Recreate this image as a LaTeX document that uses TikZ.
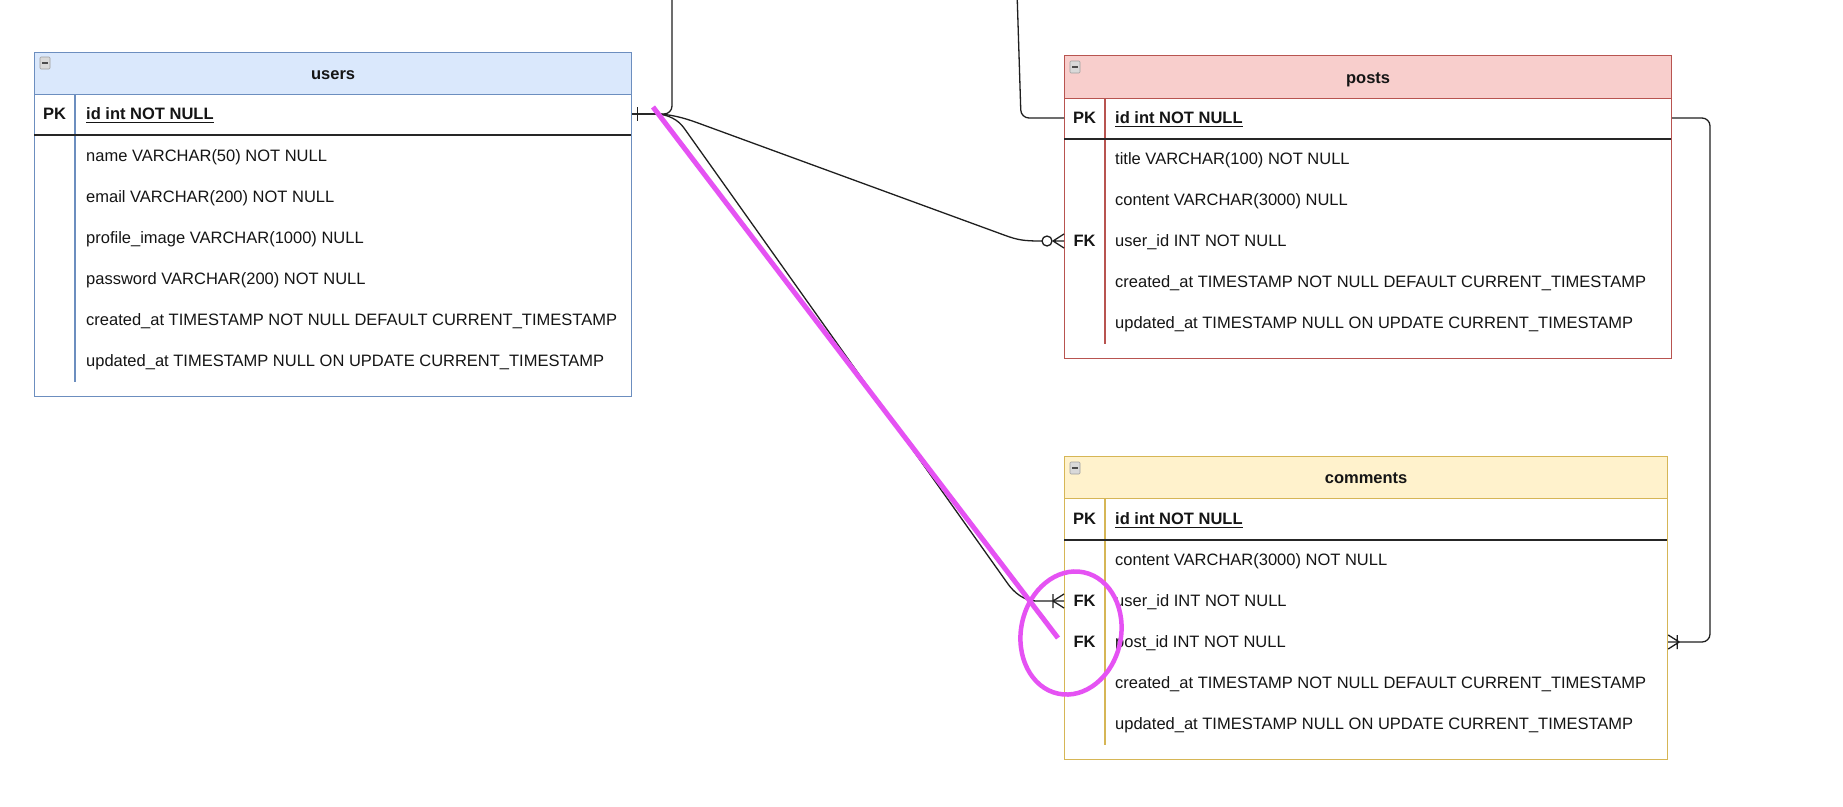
\documentclass[tikz,border=0pt]{standalone}
\usepackage{fontspec}
\setmainfont{Liberation Sans}
\usetikzlibrary{calc}
\definecolor{usersF}{HTML}{DAE8FC}
\definecolor{usersB}{HTML}{6C8EBF}
\definecolor{postsF}{HTML}{F8CECC}
\definecolor{postsB}{HTML}{B85450}
\definecolor{commF}{HTML}{FFF2CC}
\definecolor{commB}{HTML}{D6B656}
\definecolor{hlmag}{HTML}{E552F3}
\definecolor{ink}{HTML}{151515}
\begin{document}
\begin{tikzpicture}[x=1pt,y=-1pt,
  every node/.style={font=\fontsize{16.5}{19}\selectfont, text=ink},
  rowtext/.style={anchor=west, inner sep=0pt, text height=11.8pt, text depth=0pt},
  keytext/.style={inner sep=0pt, text height=11.8pt, text depth=0pt, font=\fontsize{16.5}{19}\selectfont\bfseries},
  idtext/.style={rowtext, font=\fontsize{16.5}{19}\selectfont\bfseries},
  tblbody/.style={draw=#1, line width=1.2pt, fill=white, anchor=north west, inner sep=0pt},
  hdr/.style 2 args={draw=#1, fill=#2, line width=1.2pt, anchor=north west, inner sep=0pt,
     font=\fontsize{16.5}{19}\selectfont\bfseries, text height=11.8pt, text depth=0pt},
  colline/.style={draw=#1, line width=1.2pt},
  pksep/.style={draw=black!85, line width=1.8pt},
  ulline/.style={draw=ink, line width=1.2pt},
  icon/.style={draw=gray!75, fill=gray!30, line width=0.6pt, rounded corners=1pt},
  conn/.style={draw=black!88, line width=1.3pt, rounded corners=8pt},
  erm/.style={draw=black!88, line width=1.3pt},
  hl/.style={draw=hlmag, line width=5pt}
]
\useasboundingbox (0,0) rectangle (1843,806);
\clip (0,0) rectangle (1843,806);
\fill[white] (0,0) rectangle (1843,806);

% ---------------- users ----------------
\node[tblbody=usersB, minimum width=597pt, minimum height=344pt] (users) at (34,52) {};
\node[hdr={usersB}{usersF}, minimum width=597pt, minimum height=42pt] (users-h) at (34,52) {users};
\draw[colline=usersB] (75,94) -- (75,382);
\draw[pksep] (34,135) -- (631,135);
\draw[icon] (40,57) rectangle (50,69);
\draw[black!70, line width=1.4pt] (42,63) -- (48,63);
\node[keytext] (u-pk) at (54.5,114) {PK};
\node[idtext] (u-id) at (86,114) {id int NOT NULL};
\draw[ulline] ([yshift=-2.6pt]u-id.south west) -- ([yshift=-2.6pt]u-id.south east);
\node[rowtext] (u-name) at (86,155.1) {name VARCHAR(50) NOT NULL};
\node[rowtext] (u-email) at (86,196.2) {email VARCHAR(200) NOT NULL};
\node[rowtext] (u-img) at (86,237.3) {profile\_image VARCHAR(1000) NULL};
\node[rowtext] (u-pw) at (86,278.4) {password VARCHAR(200) NOT NULL};
\node[rowtext] (u-cr) at (86,319.5) {created\_at TIMESTAMP NOT NULL DEFAULT CURRENT\_TIMESTAMP};
\node[rowtext] (u-up) at (86,360.6) {updated\_at TIMESTAMP NULL ON UPDATE CURRENT\_TIMESTAMP};

% ---------------- posts ----------------
\node[tblbody=postsB, minimum width=607pt, minimum height=303pt] (posts) at (1064,55) {};
\node[hdr={postsB}{postsF}, minimum width=607pt, minimum height=43pt] (posts-h) at (1064,55) {posts};
\draw[colline=postsB] (1105,98) -- (1105,344);
\draw[pksep] (1064,139) -- (1671,139);
\draw[icon] (1070,61) rectangle (1080,73);
\draw[black!70, line width=1.4pt] (1072,67) -- (1078,67);
\node[keytext] (p-pk) at (1084.5,118) {PK};
\node[idtext] (p-id) at (1115,118) {id int NOT NULL};
\draw[ulline] ([yshift=-2.6pt]p-id.south west) -- ([yshift=-2.6pt]p-id.south east);
\node[rowtext] (p-title) at (1115,159) {title VARCHAR(100) NOT NULL};
\node[rowtext] (p-content) at (1115,200) {content VARCHAR(3000) NULL};
\node[keytext] (p-fk) at (1084.5,241) {FK};
\node[rowtext] (p-uid) at (1115,241) {user\_id INT NOT NULL};
\node[rowtext] (p-cr) at (1115,282) {created\_at TIMESTAMP NOT NULL DEFAULT CURRENT\_TIMESTAMP};
\node[rowtext] (p-up) at (1115,323) {updated\_at TIMESTAMP NULL ON UPDATE CURRENT\_TIMESTAMP};

% ---------------- comments ----------------
\node[tblbody=commB, minimum width=603pt, minimum height=303pt] (comments) at (1064,456) {};
\node[hdr={commB}{commF}, minimum width=603pt, minimum height=42pt] (comments-h) at (1064,456) {comments};
\draw[colline=commB] (1105,498) -- (1105,745);
\draw[pksep] (1064,540) -- (1667,540);
\draw[icon] (1070,462) rectangle (1080,474);
\draw[black!70, line width=1.4pt] (1072,468) -- (1078,468);
\node[keytext] (c-pk) at (1084.5,519) {PK};
\node[idtext] (c-id) at (1115,519) {id int NOT NULL};
\draw[ulline] ([yshift=-2.6pt]c-id.south west) -- ([yshift=-2.6pt]c-id.south east);
\node[rowtext] (c-content) at (1115,560) {content VARCHAR(3000) NOT NULL};
\node[keytext] (c-fk1) at (1084.5,601) {FK};
\node[rowtext] (c-uid) at (1115,601) {user\_id INT NOT NULL};
\node[keytext] (c-fk2) at (1084.5,642) {FK};
\node[rowtext] (c-pid) at (1115,642) {post\_id INT NOT NULL};
\node[rowtext] (c-cr) at (1115,683) {created\_at TIMESTAMP NOT NULL DEFAULT CURRENT\_TIMESTAMP};
\node[rowtext] (c-up) at (1115,724) {updated\_at TIMESTAMP NULL ON UPDATE CURRENT\_TIMESTAMP};

% ---------------- connector end points ----------------
\coordinate (ue) at (users.east |- u-id);
\coordinate (pw-id) at (posts.west |- p-id);
\coordinate (pe-id) at (posts.east |- p-id);
\coordinate (pw-uid) at (posts.west |- p-uid);
\coordinate (cw-uid) at (comments.west |- c-uid);
\coordinate (ce-pid) at (comments.east |- c-pid);

% users.id -- posts.id (routed above the page)
\draw[conn] (ue) -- (672,114) -- (672,-40) -- (1016,-40) -- (1021,118) -- (pw-id);
% one mark at users.id
\draw[erm] ($(ue)+(5,-7)$) -- ($(ue)+(5,7)$);

% users.id -- posts.user_id (zero to many)
\draw[erm] (ue) -- (655,114) .. controls (670,114) and (683.9,117.8) .. (698,123) -- (1004,235)
   .. controls (1018,240.2) and (1024,241) .. ($(pw-uid)+(-22,0)$);
\draw[erm, fill=white] ($(pw-uid)+(-17,0)$) circle (5pt);
\draw[erm] ($(pw-uid)+(-11,0)$) -- (pw-uid)
           ($(pw-uid)+(-11,0)$) -- ($(pw-uid)+(0,-7)$)
           ($(pw-uid)+(-11,0)$) -- ($(pw-uid)+(0,7)$);

% users.id -- comments.user_id (one to many)
\draw[erm] (ue) -- (655,114) .. controls (668,114) and (678.2,119.9) .. (684,128) -- (1008,584)
   .. controls (1013.8,592.1) and (1024,601) .. (1036,601) -- (cw-uid);
\draw[erm] ($(cw-uid)+(-11,-7)$) -- ($(cw-uid)+(-11,7)$)
           ($(cw-uid)+(-11,0)$) -- ($(cw-uid)+(0,-7)$)
           ($(cw-uid)+(-11,0)$) -- ($(cw-uid)+(0,7)$);

% posts.id -- comments.post_id (one to many)
\draw[conn] (pe-id) -- (1710,118) -- (1710,642) -- (ce-pid);
\draw[erm] ($(ce-pid)+(9,-7)$) -- ($(ce-pid)+(9,7)$)
           ($(ce-pid)+(11,0)$) -- ($(ce-pid)+(0,-7)$)
           ($(ce-pid)+(11,0)$) -- ($(ce-pid)+(0,7)$);

% ---------------- magenta annotation ----------------
\draw[hl] (653,107) -- (1058,638);
\draw[hl, line width=4.5pt] (1071,633) ellipse [x radius=50, y radius=62, rotate=-12];
\end{tikzpicture}
\end{document}
